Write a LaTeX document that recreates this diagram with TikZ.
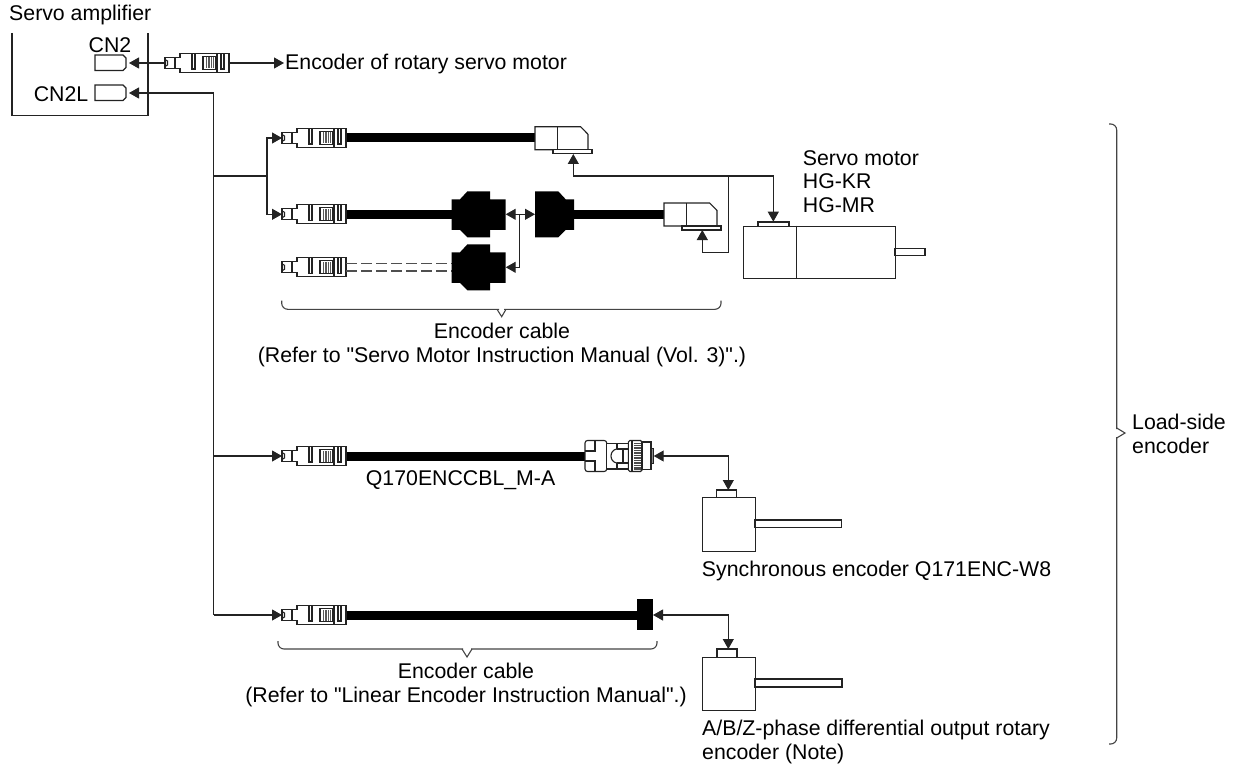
\documentclass[tikz,border=0pt]{standalone}
\usepackage{fontspec}
\newfontfamily\lsans{Liberation Sans}
\usetikzlibrary{arrows.meta}
\definecolor{ln}{RGB}{35,35,35}
\tikzset{
  x=1pt,y=-1pt,
  wire/.style={draw=ln,line width=1.1pt},
  two/.style={wire,{Triangle[length=10pt,width=11pt]}-{Triangle[length=10pt,width=11pt]}},
  one/.style={wire,-{Triangle[length=10pt,width=11pt]}},
  ino/.style={wire,{Triangle[length=10pt,width=11pt]}-},
  part/.style={draw=ln,line width=1.1pt,fill=white,line join=miter},
  cable/.style={line width=9pt,black},
  txt/.style={font=\lsans\fontsize{21.3pt}{23.5pt}\selectfont,inner sep=0pt,align=left,text=black},
  txc/.style={txt,align=center},
  plugpic/.pic={
    \draw[part] (0,-5.5) -- (15,-5.5) -- (15,-9.5) -- (64,-9.5) -- (64,9.5) -- (15,9.5) -- (15,5.5) -- (0,5.5) -- cycle;
    \draw[wire] (0,-3.5) -- (2.5,-2) -- (2.5,2) -- (0,3.5);
    \draw[wire] (10,-5.5) -- (10,5.5);
    \draw[wire] (27,-9.5) -- (27,6) -- (30,6) -- (30,-9.5);
    \draw[wire] (56,-9.5) -- (56,6) -- (59,6) -- (59,-9.5);
    \draw[wire] (52,-9.5) -- (52,9.5);
    \draw[wire] (38,-6.5) rectangle (51,6.5);
    \fill[black!65] (41,-5.5) rectangle (49,5.5);
    \foreach \q in {42.5,45,47.5}{\draw[white,line width=.4pt] (\q,-5.5) -- (\q,5.5);}
  },
  jointa/.pic={\fill[black] (0,-15) -- (8.3,-15) -- (15.7,-23) -- (38.3,-23) -- (38.3,-15) -- (54,-15) -- (54,15.5) -- (38.3,15.5) -- (38.3,23) -- (15.7,23) -- (8.3,15.5) -- (0,15.5) -- cycle;},
  jointb/.pic={\fill[black] (0,-23) -- (23.3,-23) -- (30.7,-15) -- (39,-15) -- (39,15.5) -- (30.7,15.5) -- (23.3,23) -- (0,23) -- cycle;},
  anglepic/.pic={
    \draw[part] (0,-11.5) -- (45.7,-11.5) -- (53,-4) -- (53,11.5) -- (0,11.5) -- cycle;
    \draw[wire] (22.7,-11.5) -- (22.7,11.5);
    \draw[part] (18,11.5) rectangle (57,15.5);
  },
  roundpic/.pic={
    \draw[part,rounded corners=2.5pt] (0,-15.5) rectangle (21.7,15.5);
    \draw[wire] (0,-5) -- (10,-5) -- (10,-15.5) (0,5) -- (10,5) -- (10,15.5);
    \draw[part] (21.7,-12.5) rectangle (43.3,13);
    \draw[wire] (32,-12.5) -- (32,-7) (32,13) -- (32,7);
    \draw[wire] (32,-7) -- (43.3,-7) (32,7) -- (43.3,7);
    \draw[wire] (32,-7) .. controls (24,-6) and (24,6) .. (32,7);
    \draw[wire] (38,-7) -- (38,7);
    \draw[part,rounded corners=1.5pt] (43.3,-15.5) rectangle (57,15.5);
    \draw[wire] (47,-15.5) -- (47,15.5);
    \fill[black!70] (48.5,-13.5) rectangle (56,13.5);
    \foreach \q in {-12,-9.5,...,12}{\draw[white,line width=.5pt] (48.5,\q) -- (56,\q);}
    \draw[part] (57,-14) rectangle (66,13.5);
    \draw[part,fill=black!45] (66,-7.5) rectangle (68.7,7.5);
  }
}
\begin{document}
\begin{tikzpicture}
\useasboundingbox (0,0) rectangle (1240,765);
% amplifier
\coordinate (ampTL) at (12,33);
\coordinate (ampTR) at (148,33);
\draw[wire] (ampTL) -- (12,115.5) -- (148,115.5) -- (ampTR);
\node[txt,anchor=west] (ampt) at (9,15) {Servo amplifier};
\node[txt] (cntwo) at (110,45) {CN2};
\node[txt,anchor=east] (cnl) at (88.5,94) {CN2L};
\draw[part] (95,55) -- (123,55) -- (126,58) -- (126,67.5) -- (123,70.5) -- (95,70.5) -- cycle;
\draw[part] (95,85) -- (123,85) -- (126,88) -- (126,97.5) -- (123,100.5) -- (95,100.5) -- cycle;
\coordinate (rcv) at (129,63);
\coordinate (rcvl) at (129,93);
% top plug
\pic at (165,63) {plugpic};
\coordinate (pzl) at (165,63);
\coordinate (pzr) at (229,63);
\node[txt,anchor=west] (enc) at (285,64) {Encoder of rotary servo motor};
\coordinate (enct) at (284,63);
\draw[ino] (rcv) -- (pzl);
\draw[one] (pzr) -- (enct);
% bus
\coordinate (bus) at (213.5,93);
\coordinate (busa) at (213.5,176);
\coordinate (busb) at (267,176);
\coordinate (busc) at (213.5,456);
\coordinate (busd) at (213.5,615);
\coordinate (pa) at (282,138);
\coordinate (pb) at (282,214.3);
\coordinate (pc) at (282,456);
\coordinate (pd) at (282,615);
\draw[ino] (rcvl) -- (bus) -- (busd);
\draw[wire] (busa) -- (busb);
\draw[one] (busb) |- (pa);
\draw[one] (busb) |- (pb);
\draw[one] (busc) -- (pc);
\draw[one] (busd) -- (pd);
% row 1
\draw[cable] (345,138) -- (535,138);
\pic at (pa) {plugpic};
\pic at (535,138.3) {anglepic};
% row 2
\draw[cable] (345,214.3) -- (452,214.3);
\draw[cable] (574,214.3) -- (664,214.3);
\pic at (pb) {plugpic};
\pic at (451.7,214.3) {jointa};
\pic at (535,214.3) {jointb};
\pic at (664,214.5) {anglepic};
% row 3 of the group
\pic at (282,267.3) {plugpic};
\draw[wire,dash pattern=on 11pt off 4pt,draw=ln!80] (346,263.7) -- (452,263.7);
\draw[wire,dash pattern=on 11pt off 4pt,draw=ln!80] (346,271) -- (452,271);
\pic at (451.7,267.3) {jointa};
\coordinate (ja) at (505.7,214.3);
\coordinate (jb) at (535,214.3);
\coordinate (jc) at (505.7,267.3);
\coordinate (jm) at (519.7,214.3);
\coordinate (jn) at (519.7,267.3);
\draw[two] (ja) -- (jb);
\draw[wire] (jm) -- (jn);
\draw[one] (jn) -- (jc);
% motor
\node[part,minimum width=151.7pt,minimum height=52.3pt,inner sep=0pt,anchor=north west] (motor) at (743.3,225.7) {};
\draw[wire] (796.3,225.7) -- (796.3,278);
\draw[part] (895,248.3) rectangle (925,255.7);
\draw[part] (758,225.7) -- (758,222) -- (789,222) -- (789,225.7);
\coordinate (ma) at (573.3,154);
\coordinate (mb) at (702.3,230);
\coordinate (mc) at (773.3,221.7);
\coordinate (mbus) at (728.3,176);
\coordinate (mbl) at (573.3,176);
\coordinate (mbr) at (773.3,176);
\coordinate (mbd) at (728.3,252.3);
\coordinate (mbe) at (702.3,252.3);
\draw[two] (ma) -- (mbl) -- (mbr) -- (mc);
\draw[one] (mbus) -- (mbd) -- (mbe) -- (mb);
\node[txt,anchor=north west] (motort) at (802.7,150) {Servo motor\\HG-KR\\HG-MR};
% brace 1
\coordinate (bra) at (281.7,300.7);
\coordinate (brb) at (721,300.7);
\draw[wire,draw=ln!85,rounded corners=6pt] (bra) -- (281.7,309.3) -- (499,309.3);
\draw[wire,draw=ln!85,rounded corners=6pt] (brb) -- (721,309.3) -- (504,309.3);
\draw[wire,draw=ln!85] (497,309.3) -- (501.7,316.7) -- (506,309.3);
\node[txc] (bt1) at (502,345) {Encoder cable\\[1pt](Refer to "Servo Motor Instruction Manual (Vol. 3)".)};
% row C
\draw[cable] (345,456) -- (586,456);
\pic at (pc) {plugpic};
\pic at (585,456) {roundpic};
\node[txt,anchor=west] (q) at (365.7,480) {Q170ENCCBL\_M-A};
\coordinate (rc) at (653.7,456);
\coordinate (ec) at (728.3,490);
\draw[two] (rc) -| (ec);
\draw[part] (716.7,497.3) -- (716.7,490) -- (736.7,490) -- (736.7,497.3);
\node[part,minimum width=53.3pt,minimum height=53.4pt,inner sep=0pt,anchor=north west] (encb) at (701.7,497.3) {};
\draw[part] (755,520) rectangle (841.7,527.7);
\node[txt,anchor=west] (synct) at (701.7,571) {Synchronous encoder Q171ENC-W8};
% row D
\draw[cable] (345,615) -- (638,615);
\pic at (pd) {plugpic};
\fill[black] (637,599) rectangle (653,630);
\coordinate (rd) at (653,615);
\coordinate (ed) at (728.3,649);
\draw[two] (rd) -| (ed);
\draw[part] (717,657) -- (717,649) -- (737,649) -- (737,657);
\node[part,minimum width=53pt,minimum height=53pt,inner sep=0pt,anchor=north west] (ence) at (702,657) {};
\draw[part] (755,679) rectangle (842,687);
% brace 2
\coordinate (brc) at (278,641);
\coordinate (brd) at (657,641);
\draw[wire,draw=ln!85,rounded corners=6pt] (brc) -- (278,649) -- (463,649);
\draw[wire,draw=ln!85,rounded corners=6pt] (brd) -- (657,649) -- (471,649);
\draw[wire,draw=ln!85] (462,649) -- (467,657) -- (472,649);
\node[txc] (bt2) at (466,685) {Encoder cable\\(Refer to "Linear Encoder Instruction Manual".)};
\node[txt,anchor=north west] (abz) at (702,720) {A/B/Z-phase differential output rotary\\encoder (Note)};
% right brace
\coordinate (rba) at (1109,124);
\coordinate (rbb) at (1109,744);
\draw[wire,draw=ln!85,rounded corners=6pt] (rba) -- (1116.7,124) -- (1116.7,429);
\draw[wire,draw=ln!85,rounded corners=6pt] (rbb) -- (1116.7,744) -- (1116.7,437);
\draw[wire,draw=ln!85] (1116.7,428) -- (1125,433) -- (1116.7,438);
\node[txt,anchor=north west] (ls) at (1132,414) {Load-side\\encoder};
\end{tikzpicture}
\end{document}
